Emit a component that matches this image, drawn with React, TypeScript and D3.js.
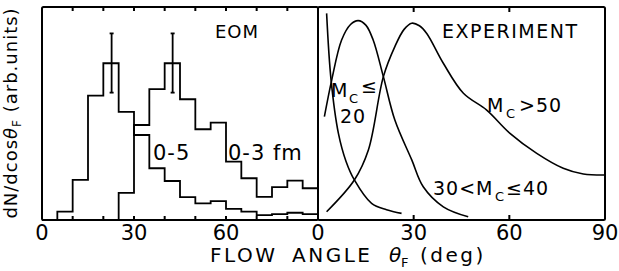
import * as d3 from 'd3';

// left panel (EOM histograms), 5 degree bins
const binStarts = [0, 5, 10, 15, 20, 25, 30, 35, 40, 45, 50, 55, 60, 65, 70, 75, 80, 85];
const histA = [0, 3.9, 18.8, 58.4, 73.6, 50.8, 39.9, 24.3, 18.3, 10.7, 7.8, 8.9, 5.2, 3.9, 2.3, 2.8, 3.4, 2.8];
const histB = [0, 0, 0, 0, 0, 12.7, 44.6, 61.4, 73.6, 56.7, 42.6, 45.7, 27.4, 19.6, 10.9, 15.4, 18.5, 14.9];
// error bars: angle, low, high
const errAngles = [22.7, 42.6];
const errLow = [59.8, 59.8];
const errHigh = [87.6, 87.6];

// right panel (experiment curves)
const c1Angle = [2.7, 4.1, 6.4, 8.8, 11.4, 16.8, 21.5, 26.2];
const c1Value = [97, 65.7, 40.7, 27.5, 18.8, 7.8, 4.8, 3.1];
const c2Angle = [2.0, 4.3, 7.4, 10.2, 12.6, 15.0, 17.3, 20.5, 24.1, 29.4, 33.0, 39.3, 47.1];
const c2Value = [48.5, 65.7, 84.5, 91.8, 93.6, 91.5, 84.5, 67.3, 46.9, 28.2, 15.6, 6.2, 1.5];
const c3Angle = [2.7, 11.4, 15.8, 20.5, 24.1, 27.0, 29.4, 31.8, 34.1, 39.3, 45.6, 52.9, 60.2, 68.6, 76.9, 83.2, 90];
const c3Value = [3.9, 18.8, 32.9, 67.3, 81.4, 89.5, 92.4, 91.2, 87.6, 73.6, 59.5, 51.6, 40.7, 31.3, 24.3, 21.6, 21.1];

const leftTicks = [10, 20, 30, 40, 50, 60, 70, 80];
const rightTicks = [30, 60];
const leftLabels = [0, 30, 60];
const rightLabels = [0, 30, 60, 90];

const W = 619;
const H = 271;
const yTop = 7;
const yBot = 220;
const font = 'DejaVu Sans, Verdana, sans-serif';

export default function App() {
  const xL = d3.scaleLinear().domain([0, 90]).range([42, 318]);
  const xR = d3.scaleLinear().domain([0, 90]).range([318, 605]);
  const y = d3.scaleLinear().domain([0, 100]).range([yBot, yTop]);

  const step = d3
    .line<[number, number]>()
    .x((d) => xL(d[0]))
    .y((d) => y(d[1]))
    .curve(d3.curveStepAfter);
  const histPath = (vals: number[]) => {
    const pts: [number, number][] = binStarts.map((b, i) => [b, vals[i]]);
    pts.push([90, vals[vals.length - 1]]);
    return step(pts) || '';
  };

  const smooth = d3
    .line<[number, number]>()
    .x((d) => xR(d[0]))
    .y((d) => y(d[1]))
    .curve(d3.curveCatmullRom.alpha(0.5));
  const curvePath = (a: number[], v: number[]) =>
    smooth(a.map((d, i) => [d, v[i]] as [number, number])) || '';

  return (
    <svg
      width={W}
      height={H}
      style={{ position: 'absolute', left: 0, top: 0, background: '#fff' }}
      fontFamily={font}
    >
      <rect width={W} height={H} fill="#fff" />

      {/* histograms */}
      <g fill="none" stroke="#000" strokeWidth={1.8}>
        <path d={histPath(histA)} />
        <path d={histPath(histB)} />
        {errAngles.map((a, i) => (
          <g key={i}>
            <line x1={xL(a)} x2={xL(a)} y1={y(errLow[i])} y2={y(errHigh[i])} />
            <line x1={xL(a) - 2} x2={xL(a) + 2} y1={y(errLow[i])} y2={y(errLow[i])} />
            <line x1={xL(a) - 2} x2={xL(a) + 2} y1={y(errHigh[i])} y2={y(errHigh[i])} />
          </g>
        ))}
      </g>

      {/* curves */}
      <g fill="none" stroke="#000" strokeWidth={1.6}>
        <path d={curvePath(c1Angle, c1Value)} />
        <path d={curvePath(c2Angle, c2Value)} />
        <path d={curvePath(c3Angle, c3Value)} />
      </g>

      {/* frames and ticks */}
      <g fill="none" stroke="#000" strokeWidth={2}>
        <rect x={xL(0)} y={yTop} width={xL(90) - xL(0)} height={yBot - yTop} rx={1.5} />
        <rect x={xR(0)} y={yTop} width={xR(90) - xR(0)} height={yBot - yTop} rx={1.5} />
        {leftTicks.map((t) => (
          <g key={'l' + t}>
            <line x1={xL(t)} x2={xL(t)} y1={yBot} y2={yBot - 4} />
            <line x1={xL(t)} x2={xL(t)} y1={yTop} y2={yTop + 4} />
          </g>
        ))}
        {rightTicks.map((t) => (
          <g key={'r' + t}>
            <line x1={xR(t)} x2={xR(t)} y1={yBot} y2={yBot - 5} />
            <line x1={xR(t)} x2={xR(t)} y1={yTop} y2={yTop + 5} />
          </g>
        ))}
      </g>

      {/* tick labels */}
      <g fontSize={21} textAnchor="middle" fill="#000">
        {leftLabels.map((t) => (
          <text key={'ll' + t} x={xL(t)} y={240}>{t}</text>
        ))}
        {rightLabels.map((t) => (
          <text key={'rl' + t} x={xR(t)} y={240}>{t}</text>
        ))}
      </g>

      {/* x axis title */}
      <g fontSize={20} fill="#000" letterSpacing={2.5}>
        <text x={210} y={262}>FLOW</text>
        <text x={292} y={262}>ANGLE</text>
        <text x={389} y={262} fontStyle="italic" letterSpacing={0}>θ</text>
        <text x={401} y={267} fontSize={13} letterSpacing={0}>F</text>
        <text x={420} y={262}>(deg)</text>
      </g>

      {/* y axis title */}
      <text
        transform="translate(17,113) rotate(-90)"
        fontSize={18}
        letterSpacing={1}
        textAnchor="middle"
        fill="#000"
      >
        dN/dcos<tspan fontStyle="italic">θ</tspan>
        <tspan fontSize={12} dy={4}>F</tspan>
        <tspan dy={-4}> (arb.units)</tspan>
      </text>

      {/* panel labels */}
      <g fill="#000" letterSpacing={1}>
        <text x={215} y={38} fontSize={18}>EOM</text>
        <text x={442} y={38} fontSize={19} textLength={136} lengthAdjust="spacing">EXPERIMENT</text>
        <text x={153} y={160} fontSize={21}>0-5</text>
        <text x={228} y={160} fontSize={21}>0-3 fm</text>

        <text x={487} y={112} fontSize={19}>M</text>
        <text x={506} y={118} fontSize={13}>C</text>
        <text x={519} y={112} fontSize={19}>&gt;50</text>

        <text x={433} y={195} fontSize={19}>30&lt;</text>
        <text x={476} y={195} fontSize={19}>M</text>
        <text x={495} y={201} fontSize={13}>C</text>
        <text x={506} y={195} fontSize={19}>≤40</text>

        <text x={331} y={97} fontSize={19}>M</text>
        <text x={349} y={103} fontSize={13}>C</text>
        <text x={361} y={93} fontSize={19}>≤</text>
        <text x={340} y={123} fontSize={19}>20</text>
      </g>
    </svg>
  );
}
